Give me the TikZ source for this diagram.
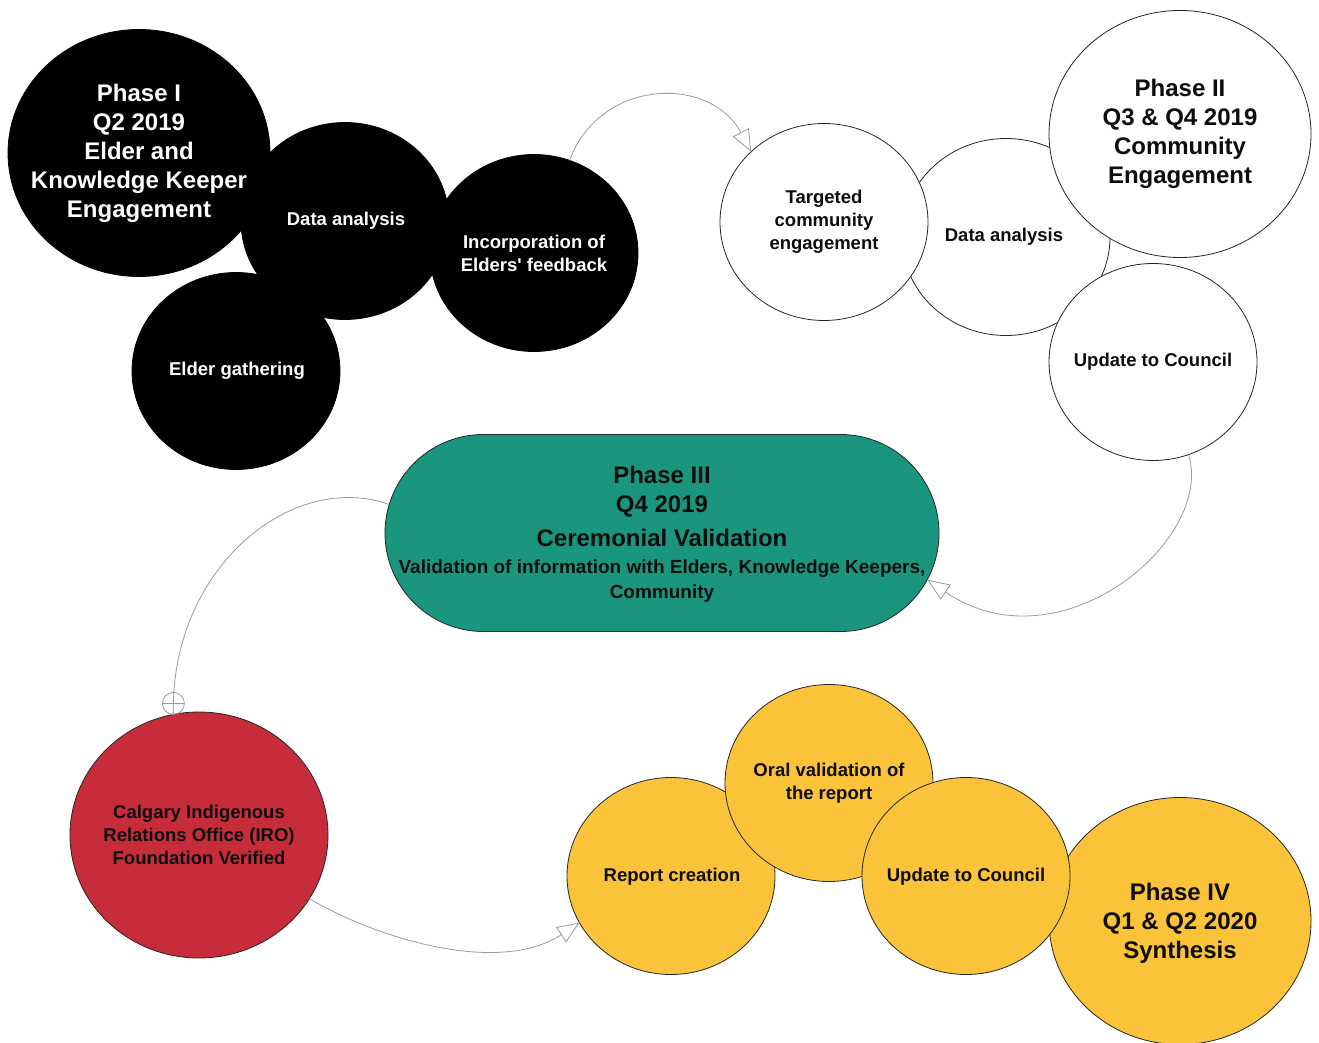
\documentclass[tikz,border=0pt]{standalone}
\usepackage{fontspec}
\setmainfont{Liberation Sans}
\usetikzlibrary{shapes.geometric,shapes.misc,arrows.meta}
\definecolor{teal3}{HTML}{1B967E}
\definecolor{red4}{HTML}{C72C3B}
\definecolor{yel4}{HTML}{FBC33A}
\definecolor{conngray}{HTML}{9A9A9A}
\begin{document}
\begin{tikzpicture}[x=1pt,y=-1pt,
  bub/.style={ellipse, inner sep=0pt, outer sep=0pt, line width=0.8pt},
  sml/.style={bub, minimum width=208pt, minimum height=197pt},
  lrg/.style={bub, minimum width=262pt, minimum height=247pt},
  blk/.style={fill=black, draw=black},
  wht/.style={fill=white, draw=black!85},
  ylw/.style={fill=yel4, draw=black!85},
  lbl/.style={align=center, inner sep=0pt, text=black!95, font=\bfseries\fontsize{18.5}{23}\selectfont},
  big/.style={align=center, inner sep=0pt, text=black!95, font=\bfseries\fontsize{24}{29}\selectfont},
  conn/.style={draw=conngray, line width=0.8pt},
  arr/.style={conn, -{Triangle[length=22pt,width=18pt,fill=white]}}
]
\useasboundingbox (0,0) rectangle (1319,1043);
\fill[white] (0,0) rectangle (1319,1043);

% Phase I (black)
\node[lrg,blk] (p1) at (139,153) {};
\node[sml,blk] (da1) at (345,221) {};
\node[sml,blk] (inc) at (534,253) {};
\node[sml,blk] (eg) at (236,371) {};

% Phase II (white)
\node[sml,wht] (da2) at (1006,237) {};
\node[sml,wht] (tce) at (824,222) {};
\node[lrg,wht] (p2) at (1180,134) {};
\node[sml,wht] (upd1) at (1153,362) {};

% Phase III (green)
\node[rounded rectangle, minimum width=554pt, minimum height=197pt, inner sep=0pt,
      fill=teal3, draw=black!85, line width=0.8pt] (p3) at (662,533) {};

% IRO (red)
\node[bub, minimum width=258pt, minimum height=246pt, fill=red4, draw=black!85] (iro) at (199,835) {};

% Phase IV (yellow)
\node[lrg,ylw] (p4) at (1180,921) {};
\node[sml,ylw] (rep) at (671,876) {};
\node[sml,ylw] (oral) at (829,783) {};
\node[sml,ylw] (upd2) at (966,876) {};

% texts
\node[big,text=white] (p1t) at (p1) {Phase I\\Q2 2019\\Elder and\\Knowledge Keeper\\Engagement};
\node[lbl,text=white] (da1t) at (346,221) {Data analysis};
\node[lbl,text=white] (inct) at (inc) {Incorporation of\\Elders\textquotesingle\ feedback};
\node[lbl,text=white] (egt) at (237,371) {Elder gathering};

\node[lbl] (tcet) at (tce) {Targeted\\community\\engagement};
\node[lbl] (da2t) at (1004,237) {Data analysis};
\node[big] (p2t) at (p2) {Phase II\\Q3 \& Q4 2019\\Community\\Engagement};
\node[lbl] (upd1t) at (upd1) {Update to Council};

\node[big] (p3t) at (662,506) {Phase III\\Q4 2019\\[5pt]Ceremonial Validation};
\node[align=center, inner sep=0pt, text=black!95, font=\bfseries\fontsize{19}{25}\selectfont] (p3s) at (662,581)
  {Validation of information with Elders, Knowledge Keepers,\\Community};

\node[lbl] (irot) at (iro) {Calgary Indigenous\\Relations Office (IRO)\\Foundation Verified};

\node[lbl] (rept) at (672,877) {Report creation};
\node[lbl] (oralt) at (oral) {Oral validation of\\the report};
\node[lbl] (upd2t) at (966,877) {Update to Council};
\node[big] (p4t) at (1180,923) {Phase IV\\Q1 \& Q2 2020\\Synthesis};

% connectors
\draw[arr] (inc.69) .. controls (600,78) and (710,75) .. (tce.136);
\draw[arr] (upd1.-69) .. controls (1215,540) and (1060,670) .. (p3.-10);
\draw[conn] (p3.174) .. controls (290,470) and (170,570) .. (iro.102);
\coordinate (mk) at ([yshift=11pt]iro.102);
\draw[conn] (mk) circle[radius=11pt];
\draw[conn] ([xshift=-11pt]mk) -- ([xshift=11pt]mk);
\draw[arr] (iro.-30) .. controls (380,940) and (500,975) .. (rep.-153);
\end{tikzpicture}
\end{document}
